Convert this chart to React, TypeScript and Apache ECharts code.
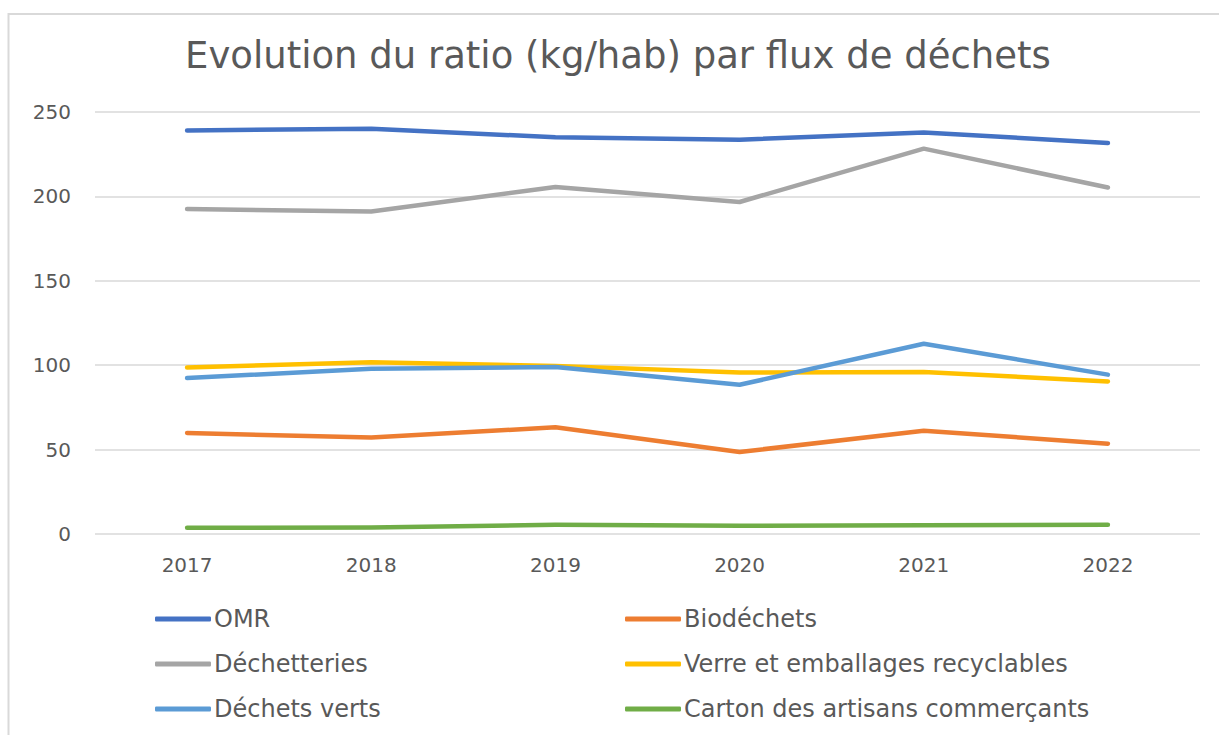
import React, { useEffect, useRef } from "react";
import * as echarts from "echarts";

const years = ["2017", "2018", "2019", "2020", "2021", "2022"];
const omr = [239.1, 240.1, 235.0, 233.6, 237.9, 231.6];
const biodechets = [59.8, 57.2, 63.2, 48.6, 61.2, 53.5];
const dechetteries = [192.5, 191.1, 205.6, 196.7, 228.3, 205.3];
const verre = [98.7, 101.7, 99.6, 95.7, 96.0, 90.4];
const dechetsVerts = [92.4, 97.9, 98.9, 88.4, 112.7, 94.4];
const carton = [3.7, 3.8, 5.5, 4.9, 5.2, 5.5];

const seriesNames = [
  "OMR",
  "Biodéchets",
  "Déchetteries",
  "Verre et emballages recyclables",
  "Déchets verts",
  "Carton des artisans commerçants",
];
const seriesData = [omr, biodechets, dechetteries, verre, dechetsVerts, carton];
const colors = ["#4472C4", "#ED7D31", "#A5A5A5", "#FFC000", "#5B9BD5", "#70AD47"];

const FONT = "DejaVu Sans";
const TEXT_COLOR = "#595959";

export default function App() {
  const ref = useRef<HTMLDivElement>(null);
  useEffect(() => {
    if (!ref.current) return;
    const chart = echarts.init(ref.current, undefined, { renderer: "svg" });
    const legendCommon = {
      orient: "vertical" as const,
      icon: "roundRect",
      itemWidth: 56,
      itemHeight: 5,
      itemGap: 21,
      padding: 0,
      textStyle: { fontFamily: FONT, fontSize: 24, color: TEXT_COLOR, lineHeight: 24, padding: [0, 0, 0, -2] },
    };
    chart.setOption({
      animation: false,
      backgroundColor: "#ffffff",
      color: colors,
      title: {
        text: "Evolution du ratio (kg/hab) par flux de déchets",
        left: 185,
        top: 37,
        padding: 0,
        textStyle: { fontFamily: FONT, fontSize: 37, fontWeight: "normal", color: TEXT_COLOR },
      },
      graphic: [
        {
          type: "rect",
          shape: { x: 8.5, y: 14, width: 1215, height: 740 },
          style: { fill: "none", stroke: "#d9d9d9", lineWidth: 2 },
          silent: true,
        },
      ],
      legend: [
        { ...legendCommon, left: 155, top: 607, data: [seriesNames[0], seriesNames[2], seriesNames[4]] },
        { ...legendCommon, left: 625, top: 607, data: [seriesNames[1], seriesNames[3], seriesNames[5]] },
      ],
      grid: { left: 95, right: 19, top: 112, bottom: 201, containLabel: false },
      xAxis: {
        type: "category",
        data: years,
        boundaryGap: true,
        axisLine: { show: false },
        axisTick: { show: false },
        axisLabel: { fontFamily: FONT, fontSize: 20, color: TEXT_COLOR, margin: 21 },
      },
      yAxis: {
        type: "value",
        min: 0,
        max: 250,
        interval: 50,
        axisLine: { show: false },
        axisTick: { show: false },
        axisLabel: { fontFamily: FONT, fontSize: 20, color: TEXT_COLOR, margin: 24 },
        splitLine: { lineStyle: { color: "#d9d9d9", width: 1.5 } },
      },
      series: seriesNames.map((name, i) => ({
        name,
        type: "line",
        data: seriesData[i],
        symbol: "none",
        lineStyle: { width: 4.5, color: colors[i], cap: "round", join: "round" },
        itemStyle: { color: colors[i] },
      })),
    });
    return () => chart.dispose();
  }, []);
  return (
    <div
      ref={ref}
      style={{ position: "fixed", left: 0, top: 0, width: 1219, height: 735 }}
    />
  );
}
